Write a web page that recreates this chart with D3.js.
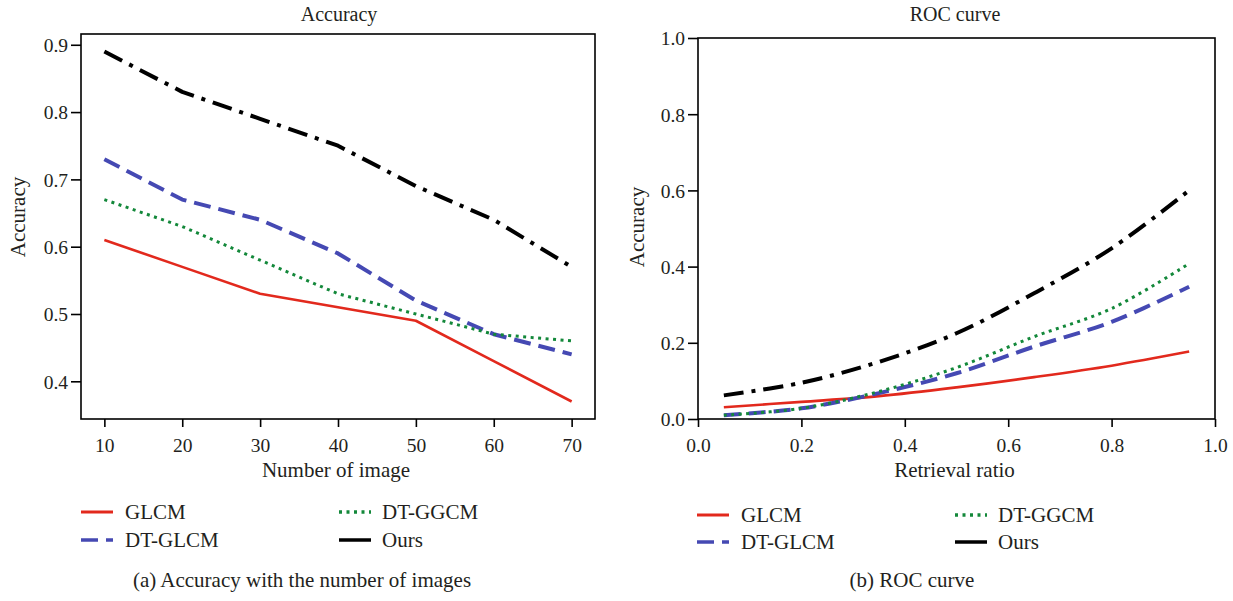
<!DOCTYPE html>
<html>
<head>
<meta charset="utf-8">
<script src="https://cdn.jsdelivr.net/npm/d3@7"></script>
<style>
  html, body { margin: 0; padding: 0; background: #fff; }
  svg text { font-family: "Liberation Serif", "DejaVu Serif", serif; fill: #231f20; }
</style>
</head>
<body>
<svg id="fig" width="1233" height="601"></svg>
<script>
// ---- data ----
const seriesNames = ["GLCM", "DT-GLCM", "DT-GGCM", "Ours"];

// (a) accuracy vs number of images
const imageCounts = [10, 20, 30, 40, 50, 60, 70];
const accGLCM   = [0.61, 0.57, 0.53, 0.51, 0.49, 0.43, 0.37];
const accDTGLCM = [0.73, 0.67, 0.64, 0.59, 0.52, 0.47, 0.44];
const accDTGGCM = [0.67, 0.63, 0.58, 0.53, 0.50, 0.47, 0.46];
const accOurs   = [0.89, 0.83, 0.79, 0.75, 0.69, 0.64, 0.57];
const accTicksX = [10, 20, 30, 40, 50, 60, 70];
const accTicksY = [0.4, 0.5, 0.6, 0.7, 0.8, 0.9];

// (b) ROC curve
const retrievalRatio = [0.05, 0.2, 0.35, 0.5, 0.65, 0.8, 0.95];
const rocGLCM   = [0.031, 0.045, 0.060, 0.083, 0.110, 0.140, 0.177];
const rocDTGLCM = [0.010, 0.028, 0.068, 0.120, 0.190, 0.255, 0.347];
const rocDTGGCM = [0.010, 0.028, 0.072, 0.135, 0.216, 0.290, 0.408];
const rocOurs   = [0.062, 0.095, 0.150, 0.225, 0.330, 0.448, 0.600];
const rocTicks  = [0, 0.2, 0.4, 0.6, 0.8, 1.0];

// ---- styles ----
const styles = {
  "GLCM":    { color: "#e2291d", width: 2.6, dash: null,          legendDash: null },
  "DT-GLCM": { color: "#4549b3", width: 4,   dash: "17,8",        legendDash: "17,8" },
  "DT-GGCM": { color: "#13883a", width: 3,   dash: "3,4.5",       legendDash: "3,4.5" },
  "Ours":    { color: "#000000", width: 4,   dash: "20,8,4,8",    legendDash: null }
};

const svg = d3.select("#fig");

function drawPanel(cfg) {
  const g = svg.append("g");
  const x = d3.scaleLinear().domain(cfg.xDomain).range([cfg.left, cfg.right]);
  const y = d3.scaleLinear().domain(cfg.yDomain).range([cfg.bottom, cfg.top]);

  // axes
  const ax = g.append("g").attr("transform", `translate(0,${cfg.bottom})`)
    .call(d3.axisBottom(x).tickValues(cfg.xTicks).tickFormat(cfg.xFmt).tickSize(8).tickSizeOuter(0).tickPadding(6));
  const ay = g.append("g").attr("transform", `translate(${cfg.left},0)`)
    .call(d3.axisLeft(y).tickValues(cfg.yTicks).tickFormat(cfg.yFmt).tickSize(10).tickSizeOuter(0).tickPadding(3));
  [ax, ay].forEach(a => {
    a.select(".domain").remove();
    a.selectAll("line").attr("stroke", "#000").attr("stroke-width", 1.6);
    a.selectAll("text").style("font-family", "'Liberation Serif', serif").style("font-size", "19.5px").attr("fill", "#231f20");
  });
  ax.selectAll("text").attr("dy", "0.95em");
  ay.selectAll("text").attr("dy", "0.35em");

  // series
  const line = d3.line().x(d => x(d[0])).y(d => y(d[1])).curve(cfg.curve);
  cfg.series.forEach((vals, i) => {
    const st = styles[seriesNames[i]];
    g.append("path")
      .datum(cfg.xs.map((v, k) => [v, vals[k]]))
      .attr("d", line)
      .attr("fill", "none")
      .attr("stroke", st.color)
      .attr("stroke-width", st.width)
      .attr("stroke-dasharray", st.dash)
      .attr("stroke-linejoin", "round");
  });

  // frame
  g.append("rect")
    .attr("x", cfg.left).attr("y", cfg.top)
    .attr("width", cfg.right - cfg.left).attr("height", cfg.bottom - cfg.top)
    .attr("fill", "none").attr("stroke", "#000").attr("stroke-width", 1.6);

  // titles and labels
  g.append("text").attr("x", cfg.titleX).attr("y", 21).attr("text-anchor", "middle")
    .style("font-size", "20px").text(cfg.title);
  g.append("text").attr("x", (cfg.left + cfg.right) / 2 - 2).attr("y", 477).attr("text-anchor", "middle")
    .style("font-size", "21px").text(cfg.xLabel);
  g.append("text").attr("transform", `translate(${cfg.yLabelX},${cfg.yLabelY}) rotate(-90)`)
    .attr("text-anchor", "middle").style("font-size", "21px").text(cfg.yLabel);

  // legend
  const L = cfg.legend;
  seriesNames.forEach((name, i) => {
    const col = i === 0 || i === 1 ? 0 : 1;
    const row = i === 0 || i === 2 ? 0 : 1;
    const st = styles[name];
    const lx = L.lineX[col], ly = L.rowY[row];
    g.append("line")
      .attr("x1", lx).attr("x2", lx + L.lineLen)
      .attr("y1", ly).attr("y2", ly)
      .attr("stroke", st.color)
      .attr("stroke-width", name === "GLCM" ? 3 : 3.5)
      .attr("stroke-dasharray", st.legendDash);
    g.append("text").attr("x", L.textX[col]).attr("y", ly + 7)
      .style("font-size", "21px").text(name);
  });

  g.append("text").attr("x", cfg.captionX).attr("y", 587).attr("text-anchor", "middle")
    .style("font-size", "21px").text(cfg.caption);
}

drawPanel({
  left: 81, right: 595, top: 34, bottom: 419,
  xDomain: [7, 73], yDomain: [0.344, 0.916],
  xTicks: accTicksX, yTicks: accTicksY,
  xFmt: d3.format("d"), yFmt: d3.format(".1f"),
  xs: imageCounts,
  series: [accGLCM, accDTGLCM, accDTGGCM, accOurs],
  curve: d3.curveLinear,
  title: "Accuracy", titleX: 339,
  xLabel: "Number of image", yLabel: "Accuracy", yLabelX: 25, yLabelY: 217,
  legend: { lineX: [81, 339], lineLen: 32, textX: [125, 382], rowY: [512, 540] },
  caption: "(a) Accuracy with the number of images", captionX: 302
});

drawPanel({
  left: 698, right: 1215, top: 38, bottom: 419,
  xDomain: [0, 1], yDomain: [0, 1],
  xTicks: rocTicks, yTicks: rocTicks,
  xFmt: d3.format(".1f"), yFmt: d3.format(".1f"),
  xs: retrievalRatio,
  series: [rocGLCM, rocDTGLCM, rocDTGGCM, rocOurs],
  curve: d3.curveCatmullRom,
  title: "ROC curve", titleX: 955,
  xLabel: "Retrieval ratio", yLabel: "Accuracy", yLabelX: 644, yLabelY: 227,
  legend: { lineX: [697, 955], lineLen: 32, textX: [741, 998], rowY: [515, 542] },
  caption: "(b) ROC curve", captionX: 912
});
</script>
</body>
</html>
